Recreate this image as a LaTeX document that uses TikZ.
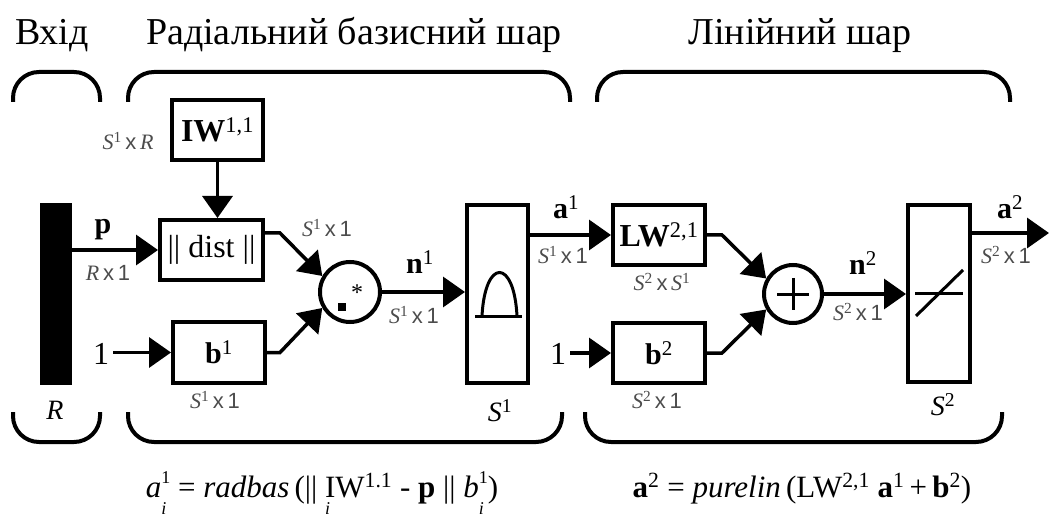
\documentclass[tikz,border=0pt]{standalone}
\usepackage{fontspec}
\setmainfont{Liberation Serif}
\setsansfont{Liberation Sans}
\usetikzlibrary{arrows.meta}
\newcommand\fs[1]{\fontsize{#1}{#1}\selectfont}
\newcommand\ssub[2]{\rlap{\raisebox{-0.55em}{\fs{18}\textit{#1}}}\raisebox{0.45em}{\fs{18}#2}}
\definecolor{dimgray}{gray}{0.3}
\begin{document}
\begin{tikzpicture}[x=1pt,y=-1pt,
  box/.style={draw, line width=4pt, inner sep=0pt},
  conn/.style={line width=3.5pt},
  arr/.style={conn, -{Triangle[length=22pt,width=30pt]}},
  brk/.style={line width=4pt, rounded corners=26pt},
  dimlab/.style={text=dimgray, font=\fs{22}, inner sep=0pt},
  sig/.style={font=\fs{30}\bfseries, inner sep=0pt},
  head/.style={anchor=base, font=\fs{38}, inner sep=0pt},
  sym/.style={line width=3pt},
  lab/.style={inner sep=0pt}
]
\useasboundingbox (0,0) rectangle (1049,521);

% headings
\node[head] (hin) at (52,45) {Вхід};
\node[head] (hrb) at (354,45) {Радіальний базисний шар};
\node[head] (hlin) at (800,45) {Лінійний шар};

% brackets
\draw[brk] (13,102) -- (13,72) -- (100,72) -- (100,102);
\draw[brk] (128,102) -- (128,72) -- (570,72) -- (570,102);
\draw[brk] (597,102) -- (597,72) -- (1010,72) -- (1010,102);
\draw[brk] (13,412) -- (13,442) -- (100,442) -- (100,412);
\draw[brk] (128,412) -- (128,442) -- (562,442) -- (562,412);
\draw[brk] (585,412) -- (585,442) -- (1002,442) -- (1002,412);

% input bar
\node[fill=black, minimum width=32pt, minimum height=182pt, inner sep=0pt] (bar) at (56,294) {};
\node[lab, font=\fs{28}\itshape] (rlab) at (55,410) {R};

% radial basis layer
\node[box, minimum width=91pt, minimum height=60pt] (iw) at (217.5,130) {\fs{32}\textbf{IW}\textsuperscript{1,1}};
\node[box, minimum width=103pt, minimum height=60pt] (dist) at (211.5,250) {\fs{32}|| dist ||};
\node[box, minimum width=92pt, minimum height=61pt] (b1) at (219,352.5) {\fs{30}\textbf{b}\textsuperscript{1}};
\node[lab, font=\fs{32}, inner sep=4pt] (one1) at (101,354) {1};
\node[draw, circle, line width=4pt, minimum size=60pt, inner sep=0pt] (mul) at (350,292) {};
\fill (338,303) rectangle (346,311);
\node[lab, font=\fs{24}] (star) at (357,293) {*};
\node[box, minimum width=61pt, minimum height=178pt] (rb) at (497.5,294) {};
\draw[sym] (475,316) -- (522,316);
\draw[sym] (482,316) .. controls (485,258) and (514,258) .. (517,316);
\node[lab, font=\fs{28}] (s1lab) at (500,411) {\textit{S}\textsuperscript{1}};

% linear layer
\node[box, minimum width=92pt, minimum height=60pt] (lw) at (659,235) {\fs{32}\textbf{LW}\textsuperscript{2,1}};
\node[box, minimum width=92pt, minimum height=60pt] (b2) at (659,353) {\fs{30}\textbf{b}\textsuperscript{2}};
\node[lab, font=\fs{32}, inner sep=4pt] (one2) at (558,354) {1};
\node[draw, circle, line width=4pt, minimum size=58pt, inner sep=0pt] (sum) at (793,294) {};
\draw[sym] (777,294) -- (809,294);
\draw[sym] (793,278) -- (793,310);
\node[box, minimum width=62pt, minimum height=177pt] (pl) at (939,293.5) {};
\draw[sym] (915,293) -- (963,293);
\draw[sym] (916,316) -- (963,270);
\node[lab, font=\fs{28}] (s2lab) at (943,405) {\textit{S}\textsuperscript{2}};
\coordinate (out) at (1049,233);

% connectors
\draw[arr] (bar.east |- dist.west) -- (dist.west);
\draw[arr] (iw.south) -- (iw.south |- dist.north);
\draw[arr] (one1.east |- b1.west) -- (b1.west);
\draw[arr] ([yshift=17pt]dist.east) -- ++(15,0) -- (mul.150);
\draw[arr] (b1.east) -- ++(13,0) -- (mul.210);
\draw[arr] (mul.east) -- (rb.west |- mul.east);
\draw[arr] (rb.east |- lw.west) -- (lw.west);
\draw[arr] (one2.east |- b2.west) -- (b2.west);
\draw[arr] (lw.east) -- ++(15,0) -- (sum.150);
\draw[arr] (b2.east) -- ++(15,0) -- (sum.210);
\draw[arr] (sum.east) -- (pl.west |- sum.east);
\draw[arr] (pl.east |- out) -- (out);

% signal labels
\node[sig] (plab) at (103,230) {p};
\node[sig] (n1lab) at (420,262) {n\textsuperscript{\mdseries 1}};
\node[sig] (a1lab) at (566,207) {a\textsuperscript{\mdseries 1}};
\node[sig] (n2lab) at (863,263) {n\textsuperscript{\mdseries 2}};
\node[sig] (a2lab) at (1010,207) {a\textsuperscript{\mdseries 2}};

% dimension labels
\node[dimlab] (d1) at (128,141) {\textit{S}\textsuperscript{1}\,\textsf{x}\,\textit{R}};
\node[dimlab] (d2) at (108,273) {\textit{R}\,\textsf{x}\,\textsf{1}};
\node[dimlab] (d3) at (327,228) {\textit{S}\textsuperscript{1}\,\textsf{x}\,\textsf{1}};
\node[dimlab] (d4) at (414,315) {\textit{S}\textsuperscript{1}\,\textsf{x}\,\textsf{1}};
\node[dimlab] (d5) at (215,400) {\textit{S}\textsuperscript{1}\,\textsf{x}\,\textsf{1}};
\node[dimlab] (d6) at (563,255) {\textit{S}\textsuperscript{1}\,\textsf{x}\,\textsf{1}};
\node[dimlab] (d7) at (662,282) {\textit{S}\textsuperscript{2}\,\textsf{x}\,\textit{S}\textsuperscript{1}};
\node[dimlab] (d8) at (657,400) {\textit{S}\textsuperscript{2}\,\textsf{x}\,\textsf{1}};
\node[dimlab] (d9) at (858,312) {\textit{S}\textsuperscript{2}\,\textsf{x}\,\textsf{1}};
\node[dimlab] (d10) at (1006,255) {\textit{S}\textsuperscript{2}\,\textsf{x}\,\textsf{1}};

% formulas
\node[anchor=base, inner sep=0pt, font=\fs{31}] (f1) at (322,497)
  {\textit{a}\ssub{i}{1} = \textit{radbas}\,(|| \rlap{\raisebox{-0.55em}{\fs{18}\textit{i}}}IW\textsuperscript{1.1} - \textbf{p} || \textit{b}\ssub{i}{1})};
\node[anchor=base, inner sep=0pt, font=\fs{31}] (f2) at (802,497)
  {\textbf{a}\textsuperscript{2} = \textit{purelin}\,(LW\textsuperscript{2,1} \textbf{a}\textsuperscript{1}\,+\,\textbf{b}\textsuperscript{2})};
\end{tikzpicture}
\end{document}
